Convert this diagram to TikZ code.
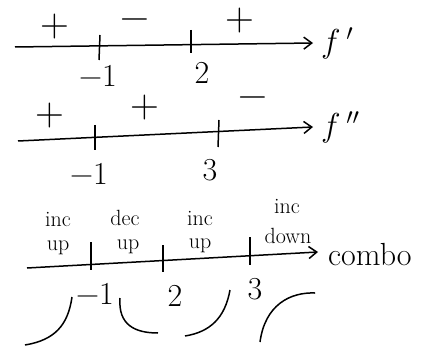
\documentclass[tikz,border=0pt]{standalone}
\usepackage{amsmath}
\usepackage{tikz}
\usetikzlibrary{arrows.meta,calc,positioning}

\newcommand{\mns}{\char"2212\relax}

\begin{document}
\begin{tikzpicture}[x=1pt, y=-1pt, >={Straight Barb[length=8pt,width=12pt]},
    axis/.style={->, line width=1.5pt},
    tick/.style={line width=1.5pt},
    sgn/.style={font=\fontsize{40}{40}\selectfont, inner sep=0pt},
    num/.style={font=\fontsize{32}{32}\selectfont, inner sep=0pt},
    fname/.style={font=\huge, inner sep=0pt},
    word/.style={font=\fontsize{22}{22}\selectfont, inner sep=0pt, anchor=base},
    shapeline/.style={line width=1.5pt}]
    \useasboundingbox (0,0) rectangle (422,347);
    % sign line of f'
    \coordinate (p1) at (15,47);
    \coordinate (p2) at (313,43);
    \draw[axis] (p1) -- (p2);
    \draw[tick] (100,35) -- (99,60);
    \draw[tick] (191,30) -- (191,53);
    \node[sgn] (p+a) at (55,27) {+};
    \node[sgn] (p-b) at (135,24) {\mns};
    \node[sgn] (p+c) at (240,21) {+};
    \node[fname, right=8pt of p2] (fp) {\scalebox{1.6}{$f\,'$}};
    \node[num] (pm1) at (98,76) {\mns1};
    \node[num] (p2n) at (202,73) {2};
    % sign line of f''
    \coordinate (q1) at (18,141);
    \coordinate (q2) at (313,127);
    \draw[axis] (q1) -- (q2);
    \draw[tick] (95,125) -- (95,150);
    \draw[tick] (219,120) -- (218,147);
    \node[sgn] (q+a) at (50,116) {+};
    \node[sgn] (q+b) at (145,108) {+};
    \node[sgn] (q-c) at (253,102) {\mns};
    \node[fname, right=8pt of q2] (fpp) {\scalebox{1.6}{$f\,''$}};
    \node[num] (qm1) at (89,174) {\mns1};
    \node[num] (q3n) at (210,170) {3};
    % combined line
    \coordinate (r1) at (27,268);
    \coordinate (r2) at (318,252);
    \draw[axis] (r1) -- (r2);
    \draw[tick] (91,242) -- (91,270);
    \draw[tick] (163,245) -- (163,272);
    \draw[tick] (250,237) -- (250,265);
    \node[word] (ia) at (58,226) {inc};
    \node[word] (ua) at (58,250) {up};
    \node[word] (db) at (125,225) {dec};
    \node[word] (ub) at (128,249) {up};
    \node[word] (ic) at (200,225) {inc};
    \node[word] (uc) at (200,248) {up};
    \node[word] (id) at (287,213) {inc};
    \node[word] (dd) at (288,243) {down};
    \node[word, font=\fontsize{32}{32}\selectfont, anchor=west] (combo) at (328,255) {combo};
    \node[num] (rm1) at (95,294) {\mns1};
    \node[num] (r2n) at (175,296) {2};
    \node[num] (r3n) at (255,289) {3};
    % shapes of the graph
    \draw[shapeline] (25,345) .. controls (55,340) and (68,325) .. (72,297);
    \draw[shapeline] (120,298) .. controls (118,325) and (135,333) .. (158,333);
    \draw[shapeline] (185,336) .. controls (210,332) and (225,318) .. (230,290);
    \draw[shapeline] (260,342) .. controls (265,305) and (290,292) .. (315,293);
\end{tikzpicture}
\end{document}
